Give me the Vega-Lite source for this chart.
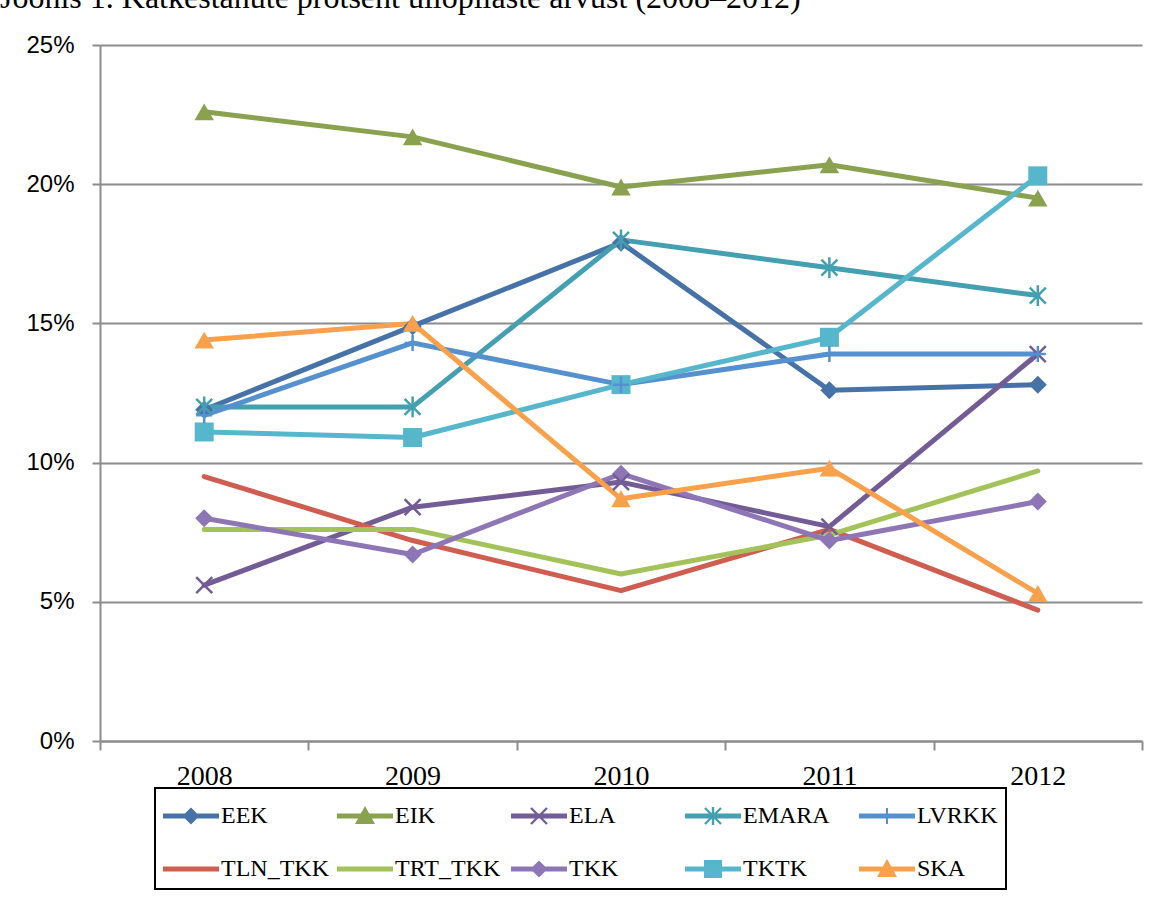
{
  "$schema": "https://vega.github.io/schema/vega-lite/v6.json",
  "width": 1042,
  "height": 696,
  "autosize": {"type": "none"},
  "padding": {"left": 100, "top": 45, "right": 10, "bottom": 158},
  "background": "white",
  "title": {
    "text": "Joonis 1. Katkestanute protsent üliõpilaste arvust (2008–2012)",
    "anchor": "start",
    "frame": "group",
    "dx": -100,
    "dy": 8,
    "font": "Liberation Serif",
    "fontSize": 32,
    "fontWeight": "normal",
    "color": "black",
    "baseline": "alphabetic",
    "offset": 1
  },
  "data": {
    "values": [
      {"year": "2008", "series": "EEK", "rate": 0.119},
      {"year": "2009", "series": "EEK", "rate": 0.149},
      {"year": "2010", "series": "EEK", "rate": 0.179},
      {"year": "2011", "series": "EEK", "rate": 0.126},
      {"year": "2012", "series": "EEK", "rate": 0.128},
      {"year": "2008", "series": "EIK", "rate": 0.226},
      {"year": "2009", "series": "EIK", "rate": 0.217},
      {"year": "2010", "series": "EIK", "rate": 0.199},
      {"year": "2011", "series": "EIK", "rate": 0.207},
      {"year": "2012", "series": "EIK", "rate": 0.195},
      {"year": "2008", "series": "ELA", "rate": 0.056},
      {"year": "2009", "series": "ELA", "rate": 0.084},
      {"year": "2010", "series": "ELA", "rate": 0.093},
      {"year": "2011", "series": "ELA", "rate": 0.077},
      {"year": "2012", "series": "ELA", "rate": 0.139},
      {"year": "2008", "series": "EMARA", "rate": 0.120},
      {"year": "2009", "series": "EMARA", "rate": 0.120},
      {"year": "2010", "series": "EMARA", "rate": 0.180},
      {"year": "2011", "series": "EMARA", "rate": 0.170},
      {"year": "2012", "series": "EMARA", "rate": 0.160},
      {"year": "2008", "series": "LVRKK", "rate": 0.117},
      {"year": "2009", "series": "LVRKK", "rate": 0.143},
      {"year": "2010", "series": "LVRKK", "rate": 0.128},
      {"year": "2011", "series": "LVRKK", "rate": 0.139},
      {"year": "2012", "series": "LVRKK", "rate": 0.139},
      {"year": "2008", "series": "TLN_TKK", "rate": 0.095},
      {"year": "2009", "series": "TLN_TKK", "rate": 0.072},
      {"year": "2010", "series": "TLN_TKK", "rate": 0.054},
      {"year": "2011", "series": "TLN_TKK", "rate": 0.076},
      {"year": "2012", "series": "TLN_TKK", "rate": 0.047},
      {"year": "2008", "series": "TRT_TKK", "rate": 0.076},
      {"year": "2009", "series": "TRT_TKK", "rate": 0.076},
      {"year": "2010", "series": "TRT_TKK", "rate": 0.060},
      {"year": "2011", "series": "TRT_TKK", "rate": 0.074},
      {"year": "2012", "series": "TRT_TKK", "rate": 0.097},
      {"year": "2008", "series": "TKK", "rate": 0.080},
      {"year": "2009", "series": "TKK", "rate": 0.067},
      {"year": "2010", "series": "TKK", "rate": 0.096},
      {"year": "2011", "series": "TKK", "rate": 0.072},
      {"year": "2012", "series": "TKK", "rate": 0.086},
      {"year": "2008", "series": "TKTK", "rate": 0.111},
      {"year": "2009", "series": "TKTK", "rate": 0.109},
      {"year": "2010", "series": "TKTK", "rate": 0.128},
      {"year": "2011", "series": "TKTK", "rate": 0.145},
      {"year": "2012", "series": "TKTK", "rate": 0.203},
      {"year": "2008", "series": "SKA", "rate": 0.144},
      {"year": "2009", "series": "SKA", "rate": 0.150},
      {"year": "2010", "series": "SKA", "rate": 0.087},
      {"year": "2011", "series": "SKA", "rate": 0.098},
      {"year": "2012", "series": "SKA", "rate": 0.053}
    ]
  },
  "encoding": {
    "x": {
      "field": "year",
      "type": "ordinal",
      "scale": {"type": "band", "paddingInner": 0, "paddingOuter": 0},
      "axis": {
        "title": null,
        "labelAngle": 0,
        "tickBand": "extent",
        "tickSize": 9,
        "tickWidth": 2,
        "tickColor": "#8c8c8c",
        "domainColor": "#8c8c8c",
        "domainWidth": 2,
        "labelFont": "Liberation Serif",
        "labelFontSize": 28,
        "labelColor": "black",
        "labelPadding": 12,
        "grid": false
      }
    },
    "y": {
      "field": "rate",
      "type": "quantitative",
      "scale": {"domain": [0, 0.25]},
      "axis": {
        "title": null,
        "values": [0, 0.05, 0.1, 0.15, 0.2, 0.25],
        "format": ".0%",
        "grid": true,
        "gridColor": "#8c8c8c",
        "gridWidth": 2,
        "tickSize": 8,
        "tickWidth": 2,
        "tickColor": "#8c8c8c",
        "domainColor": "#8c8c8c",
        "domainWidth": 2,
        "labelFont": "Liberation Sans",
        "labelFontSize": 24,
        "labelColor": "black",
        "labelPadding": 18
      }
    }
  },
  "layer": [
    {
      "mark": {"type": "point", "filled": true, "opacity": 0, "size": 1600},
      "encoding": {
        "color": {
          "field": "series",
          "type": "nominal",
          "scale": {
            "domain": ["EEK", "EIK", "ELA", "EMARA", "LVRKK", "TLN_TKK", "TRT_TKK", "TKK", "TKTK", "SKA"],
            "range": ["#4672A8", "#8AA24F", "#735C96", "#44A0B0", "#5590CF", "#CF5D50", "#A3C35A", "#8E76B6", "#56B6CC", "#F8A04A"]
          },
          "legend": {
            "orient": "none",
            "legendX": 55,
            "legendY": 743,
            "direction": "horizontal",
            "title": null,
            "columns": 5,
            "symbolSize": 1600,
            "symbolStrokeWidth": 0,
            "symbolOpacity": 1,
            "labelFont": "Liberation Serif",
            "labelFontSize": 24,
            "labelColor": "black",
            "labelOffset": 18,
            "labelLimit": 300,
            "strokeColor": "black",
            "padding": 8,
            "columnPadding": 8,
            "rowPadding": 21,
            "gridAlign": "all"
          }
        },
        "shape": {
          "field": "series",
          "type": "nominal",
          "scale": {
            "domain": ["EEK", "EIK", "ELA", "EMARA", "LVRKK", "TLN_TKK", "TRT_TKK", "TKK", "TKTK", "SKA"],
            "range": [
              "M-1,-0.125L1.8,-0.125L1.8,0.125L-1,0.125ZM0.4,-0.43L0.83,0L0.4,0.43L-0.03,0Z",
              "M-1,-0.125L1.8,-0.125L1.8,0.125L-1,0.125ZM0.4,-0.5L0.9,0.4L-0.1,0.4Z",
              "M-1,-0.125L1.8,-0.125L1.8,0.125L-1,0.125ZM0.042,-0.442L0.842,0.358L0.758,0.442L-0.042,-0.358ZM-0.042,0.358L0.758,-0.442L0.842,-0.358L0.042,0.442Z",
              "M-1,-0.125L1.8,-0.125L1.8,0.125L-1,0.125ZM0.042,-0.442L0.842,0.358L0.758,0.442L-0.042,-0.358ZM-0.042,0.358L0.758,-0.442L0.842,-0.358L0.042,0.442ZM0.34,-0.45L0.46,-0.45L0.46,0.45L0.34,0.45Z",
              "M-1,-0.125L1.8,-0.125L1.8,0.125L-1,0.125ZM0.35,-0.4L0.45,-0.4L0.45,0.4L0.35,0.4Z",
              "M-1,-0.125L1.8,-0.125L1.8,0.125L-1,0.125Z",
              "M-1,-0.125L1.8,-0.125L1.8,0.125L-1,0.125Z",
              "M-1,-0.125L1.8,-0.125L1.8,0.125L-1,0.125ZM0.4,-0.43L0.83,0L0.4,0.43L-0.03,0Z",
              "M-1,-0.125L1.8,-0.125L1.8,0.125L-1,0.125ZM-0.05,-0.45L0.85,-0.45L0.85,0.45L-0.05,0.45Z",
              "M-1,-0.125L1.8,-0.125L1.8,0.125L-1,0.125ZM0.4,-0.5L0.9,0.4L-0.1,0.4Z"
            ]
          },
          "legend": {
            "orient": "none",
            "legendX": 55,
            "legendY": 743,
            "direction": "horizontal",
            "title": null,
            "columns": 5,
            "symbolSize": 1600,
            "symbolStrokeWidth": 0,
            "symbolOpacity": 1,
            "labelFont": "Liberation Serif",
            "labelFontSize": 24,
            "labelColor": "black",
            "labelOffset": 18,
            "labelLimit": 300,
            "strokeColor": "black",
            "padding": 8,
            "columnPadding": 8,
            "rowPadding": 21,
            "gridAlign": "all"
          }
        }
      }
    },
    {
      "mark": {"type": "line", "strokeWidth": 5, "strokeCap": "round", "strokeJoin": "round"},
      "encoding": {
        "stroke": {
          "field": "series",
          "type": "nominal",
          "sort": null,
          "scale": {
            "domain": ["EEK", "EIK", "ELA", "EMARA", "LVRKK", "TLN_TKK", "TRT_TKK", "TKK", "TKTK", "SKA"],
            "range": ["#4672A8", "#8AA24F", "#735C96", "#44A0B0", "#5590CF", "#CF5D50", "#A3C35A", "#8E76B6", "#56B6CC", "#F8A04A"]
          },
          "legend": null
        }
      }
    },
    {
      "transform": [{"filter": {"field": "series", "oneOf": ["EEK", "TKK"]}}],
      "mark": {"type": "point", "shape": "diamond", "filled": true, "opacity": 1, "size": 324},
      "encoding": {
        "fill": {
          "field": "series",
          "type": "nominal",
          "scale": {
            "domain": ["EEK", "EIK", "ELA", "EMARA", "LVRKK", "TLN_TKK", "TRT_TKK", "TKK", "TKTK", "SKA"],
            "range": ["#4672A8", "#8AA24F", "#735C96", "#44A0B0", "#5590CF", "#CF5D50", "#A3C35A", "#8E76B6", "#56B6CC", "#F8A04A"]
          },
          "legend": null
        }
      }
    },
    {
      "transform": [{"filter": {"field": "series", "oneOf": ["EIK", "SKA"]}}],
      "mark": {"type": "point", "shape": "triangle-up", "filled": true, "opacity": 1, "size": 380},
      "encoding": {
        "fill": {"field": "series", "type": "nominal", "legend": null}
      }
    },
    {
      "transform": [{"filter": {"field": "series", "oneOf": ["TKTK"]}}],
      "mark": {"type": "point", "shape": "square", "filled": true, "opacity": 1, "size": 361},
      "encoding": {
        "fill": {"field": "series", "type": "nominal", "legend": null}
      }
    },
    {
      "transform": [{"filter": {"field": "series", "oneOf": ["ELA"]}}],
      "mark": {"type": "point", "shape": "M-1,-1L1,1M-1,1L1,-1", "filled": false, "opacity": 1, "size": 256, "strokeWidth": 2.5},
      "encoding": {
        "stroke": {"field": "series", "type": "nominal", "legend": null}
      }
    },
    {
      "transform": [{"filter": {"field": "series", "oneOf": ["EMARA"]}}],
      "mark": {"type": "point", "shape": "M-1,-1L1,1M-1,1L1,-1M0,-1.3L0,1.3", "filled": false, "opacity": 1, "size": 256, "strokeWidth": 2.5},
      "encoding": {
        "stroke": {"field": "series", "type": "nominal", "legend": null}
      }
    },
    {
      "transform": [{"filter": {"field": "series", "oneOf": ["LVRKK"]}}],
      "mark": {"type": "point", "shape": "M0,-1L0,1M-1,0L1,0", "filled": false, "opacity": 1, "size": 256, "strokeWidth": 2.5},
      "encoding": {
        "stroke": {"field": "series", "type": "nominal", "legend": null}
      }
    }
  ],
  "config": {"view": {"stroke": null}, "legend": {"strokeWidth": 2}}
}
